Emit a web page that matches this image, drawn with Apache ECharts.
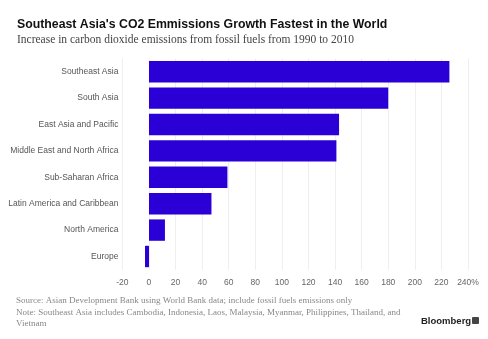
<!DOCTYPE html>
<html><head><meta charset="utf-8">
<script src="https://cdn.jsdelivr.net/npm/echarts@6/dist/echarts.min.js"></script>
<style>html,body{margin:0;padding:0;background:#fff}#c{width:488px;height:339px}</style>
</head><body><div id="c"></div>
<script>
var categories = ["Southeast Asia","South Asia","East Asia and Pacific","Middle East and North Africa","Sub-Saharan Africa","Latin America and Caribbean","North America","Europe"];
var values = [226, 180, 143, 141, 59, 47, 12, -3];
var xTicks = [-20,0,20,40,60,80,100,120,140,160,180,200,220,240];
var titleText = "Southeast Asia's CO2 Emmissions Growth Fastest in the World";
var subtitleText = "Increase in carbon dioxide emissions from fossil fuels from 1990 to 2010";
var sourceText = "Source: Asian Development Bank using World Bank data; include fossil fuels emissions only";
var noteText = "Note: Southeast Asia includes Cambodia, Indonesia, Laos, Malaysia, Myanmar, Philippines, Thailand, and\nVietnam";

var chart = echarts.init(document.getElementById('c'));
chart.setOption({
  animation: false,
  backgroundColor: '#fff',
  title: [
    {text: titleText, left: 12, top: 14, textStyle: {fontFamily: 'Liberation Sans', fontWeight: 'bold', fontSize: 12.3, color: '#111'}},
    {text: subtitleText, left: 12, top: 29, textStyle: {fontFamily: 'Liberation Serif', fontWeight: 'normal', fontSize: 11.5, color: '#444'}}
  ],
  grid: {left: 122.4, right: 20, top: 58.5, bottom: 69.3, containLabel: false, outerBoundsMode: 'none'},
  xAxis: {
    type: 'value', min: -20, max: 240, interval: 20,
    axisLine: {show: false}, axisTick: {show: false},
    splitLine: {show: true, lineStyle: {color: '#eeeeee', width: 1}},
    axisLabel: {margin: 8, fontFamily: 'Liberation Sans', fontSize: 8.5, color: '#666',
      formatter: function(v){ return v === xTicks[xTicks.length-1] ? v + '%' : String(v); }}
  },
  yAxis: {
    type: 'category', data: categories, inverse: true,
    axisLine: {show: false}, axisTick: {show: false}, splitLine: {show: false},
    axisLabel: {margin: 4, fontFamily: 'Liberation Sans', fontSize: 8.5, color: '#555'}
  },
  series: [{
    type: 'bar', data: values, barCategoryGap: '19%',
    itemStyle: {color: '#2a00d6'}
  }],
  graphic: [
    {type: 'text', left: 16, top: 295, style: {text: sourceText + '\n' + noteText, font: '9px "Liberation Serif"', fill: '#888', lineHeight: 11.5}},
    {type: 'text', left: 421, top: 316, style: {text: 'Bloomberg', font: 'bold 9.5px "Liberation Sans"', fill: '#222'}},
    {type: 'rect', left: 472, top: 317, shape: {width: 7, height: 7, r: 1}, style: {fill: '#444'}}
  ]
});
</script></body></html>
